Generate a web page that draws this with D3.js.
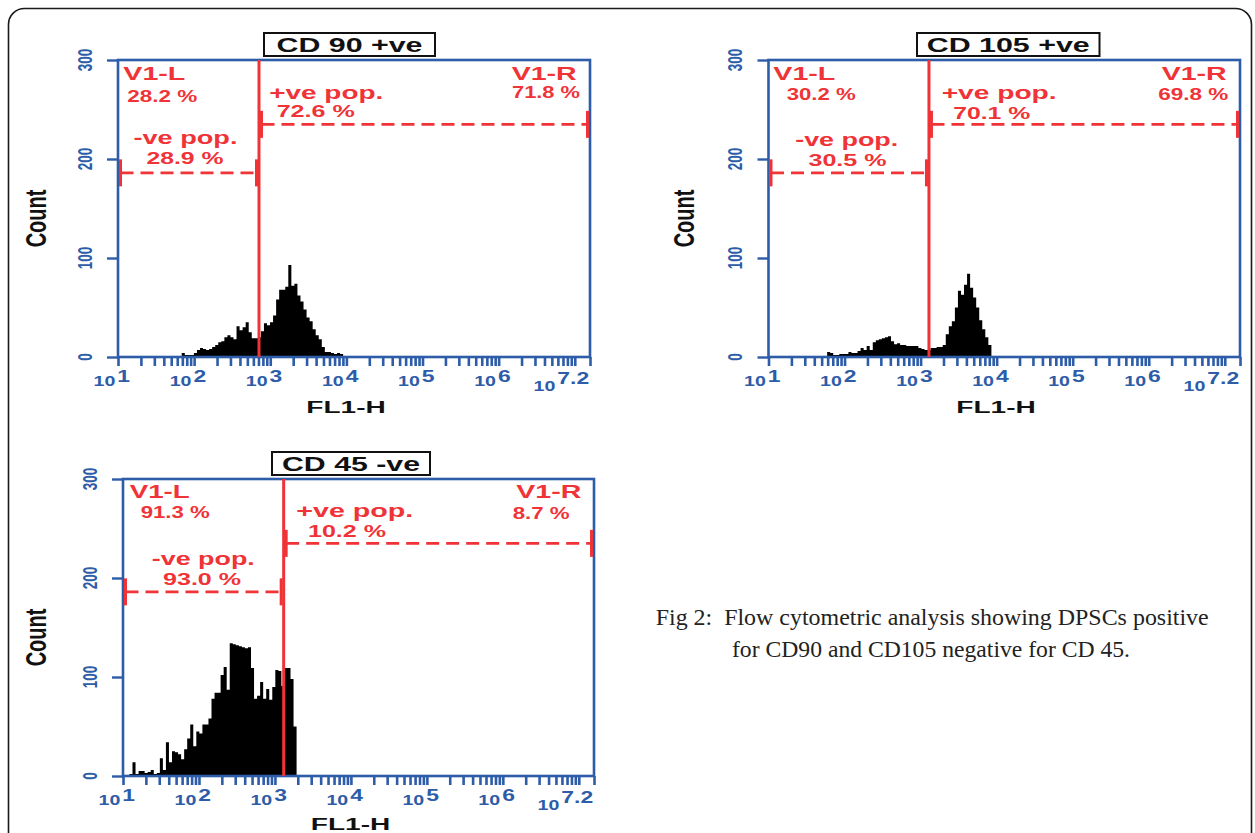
<!DOCTYPE html>
<html>
<head>
<meta charset="utf-8">
<script src="https://cdn.jsdelivr.net/npm/d3@7"></script>
<style>
  body { margin: 0; background: #fff; }
  svg { display: block; }
</style>
</head>
<body>
<svg id="fig" width="1255" height="833"></svg>
<script>
// ---- values ----
const panelTitles = ["CD 90 +ve", "CD 105 +ve", "CD 45 -ve"];
const leftPct  = ["28.2 %", "30.2 %", "91.3 %"];
const rightPct = ["71.8 %", "69.8 %", "8.7 %"];
const negPct   = ["28.9 %", "30.5 %", "93.0 %"];
const posPct   = ["72.6 %", "70.1 %", "10.2 %"];
const gateExp  = [2.852, 3.11, 3.115];     // V1 gate position, log10(FL1-H)
const negMarker = [186, 186, 186];         // count level of the -ve pop. marker
const posMarker = [235, 235, 235];         // count level of the +ve pop. marker

// histogram channels: first bin (log10 FL1-H) and width in decades
const binStartExp = [1.837, 1.771, 1.085];
const binWidthExp = 0.04;
const counts90 = [4, 2, 2, 2, 4, 7, 9, 8, 7, 8, 10, 12, 15, 16, 20, 22, 20, 18, 31, 27,
  30, 35, 25, 19, 19, 20, 26, 34, 32, 35, 42, 58, 68, 68, 71, 93, 72, 74, 62, 56,
  48, 40, 36, 28, 22, 18, 10, 5, 5, 4, 3, 4, 3];
const counts105 = [5, 4, 2, 2, 3, 3, 3, 5, 4, 4, 6, 9, 7, 11, 7, 15, 17, 18, 19, 20,
  21, 16, 13, 14, 12, 12, 11, 11, 11, 11, 9, 8, 7, 7, 9, 9, 10, 10, 12, 23,
  31, 36, 50, 67, 63, 73, 84, 70, 60, 50, 37, 28, 20, 12];
const counts45 = [2, 14, 2, 5, 5, 3, 4, 6, 2, 3, 18, 6, 34, 14, 25, 24, 22, 17, 27, 38,
  52, 30, 45, 43, 52, 52, 58, 78, 84, 84, 102, 110, 87, 134, 133, 132, 131, 130, 129, 130,
  109, 78, 81, 95, 78, 88, 77, 90, 107, 106, 91, 109, 109, 98, 50];
const allCounts = [counts90, counts105, counts45];

const yTicks = [0, 100, 200, 300];
const xLabelExps = ["1", "2", "3", "4", "5", "6", "7.2"];
const xMaxExp = 7.2;

const caption = ["Fig 2:\u00a0 Flow cytometric analysis showing DPSCs positive",
                 "for CD90 and CD105 negative for CD 45."];

// ---- layout ----
const RED = "#ef3337", BLUE = "#2d5ca8";
const SANS = "'Liberation Sans', Arial, Helvetica, sans-serif";
const SX = 1.45;   // the source figure is stretched horizontally

// label offsets: [dx, dy(from plot top), width]
const layout = [
  { left: 118, top: 60, right: 590, bottom: 357, box: [264, 33, 171, 23], titleW: 146, countX: 45.5, xlabX: 346, xlabDy: 55.6,
    v1l: [5.3, 19.7, 62], lp: [9.3, 42.3, 70], pp: [10.3, 38.7, 114], ppv: [17.7, 57.3, 78],
    v1r: [-13.3, 19.5, 65], rp: [-10, 38, 68], np: [-3, 84, 104], npv: [-3.6, 104, 77] },
  { left: 768.5, top: 60, right: 1240, bottom: 357, box: [917, 33, 182.5, 23], titleW: 163, countX: 694, xlabX: 996, xlabDy: 55.6,
    v1l: [4.8, 19.7, 62], lp: [18.2, 39.7, 69], pp: [12.7, 38.7, 115], ppv: [24.3, 59, 77],
    v1r: [-13.3, 19.5, 65], rp: [-11.7, 40, 70], np: [-2, 85.7, 103], npv: [-1.2, 106.3, 78] },
  { left: 123, top: 479, right: 594, bottom: 776, box: [272, 452, 158, 23], titleW: 138, countX: 45.5, xlabX: 350.5, xlabDy: 53.5,
    v1l: [6.7, 19, 60], lp: [17.7, 39, 69], pp: [12.6, 38, 117], ppv: [24.3, 58.3, 78],
    v1r: [-12.7, 19.2, 65], rp: [-24.3, 39.5, 57], np: [0, 86.3, 103], npv: [-1.3, 105.7, 78] }
];

const svg = d3.select("#fig");

// outer rounded frame (runs off the bottom of the page)
svg.append("rect")
  .attr("x", 8.5).attr("y", 8.5).attr("width", 1243).attr("height", 900)
  .attr("rx", 16).attr("fill", "none").attr("stroke", "#1a1a1a").attr("stroke-width", 1.6);

function label(g, txt, x, y, w, size, anchor, color) {
  g.append("text")
    .attr("x", x).attr("y", y)
    .attr("text-anchor", anchor)
    .attr("font-family", SANS).attr("font-weight", "bold")
    .attr("font-size", size).attr("fill", color)
    .attr("textLength", w).attr("lengthAdjust", "spacingAndGlyphs")
    .text(txt);
}

// minor + major tick values over the log axis
const xTickVals = [];
for (let e = 1; e <= 7; e++) {
  for (let m = 1; m <= 9; m++) {
    const v = m * Math.pow(10, e);
    if (v <= Math.pow(10, xMaxExp)) xTickVals.push(v);
  }
}
xTickVals.push(Math.pow(10, xMaxExp));

layout.forEach((L, p) => {
  const g = svg.append("g");
  const x = d3.scaleLog().domain([10, Math.pow(10, xMaxExp)]).range([L.left, L.right]);
  const y = d3.scaleLinear().domain([0, 300]).range([L.bottom, L.top]);
  const gx = x(Math.pow(10, gateExp[p]));

  // histogram
  const counts = allCounts[p];
  const pts = counts.map((c, i) => ({ e: binStartExp[p] + i * binWidthExp, c: c }));
  pts.push({ e: binStartExp[p] + counts.length * binWidthExp, c: 0 });
  const area = d3.area()
    .x(d => x(Math.pow(10, d.e)))
    .y0(y(0))
    .y1(d => y(d.c))
    .curve(d3.curveStepAfter);
  g.append("path").datum(pts).attr("d", area).attr("fill", "#000");

  // axes ticks
  const xAxis = d3.axisBottom(x).tickValues(xTickVals).tickSize(9).tickSizeOuter(0).tickFormat("");
  const ax = g.append("g").attr("transform", `translate(0,${L.bottom})`).attr("color", BLUE).call(xAxis);
  ax.select(".domain").remove();
  ax.selectAll("line").attr("stroke-width", 2.6);

  const yAxis = d3.axisLeft(y).tickValues(yTicks).tickSize(11).tickSizeOuter(0).tickFormat("");
  const ay = g.append("g").attr("transform", `translate(${L.left},0)`).attr("color", BLUE).call(yAxis);
  ay.select(".domain").remove();
  ay.selectAll("line").attr("stroke-width", 2.4);

  // plot frame
  g.append("rect")
    .attr("x", L.left).attr("y", L.top)
    .attr("width", L.right - L.left).attr("height", L.bottom - L.top)
    .attr("fill", "none").attr("stroke", BLUE).attr("stroke-width", 2.6);

  // y tick labels (rotated)
  yTicks.forEach(t => {
    g.append("text")
      .attr("transform", `translate(${L.left - 26.3},${y(t)}) scale(1.5,1) rotate(-90)`)
      .attr("text-anchor", "middle")
      .attr("font-family", SANS).attr("font-weight", "bold").attr("font-size", 13.5)
      .attr("fill", BLUE).text(t);
  });

  // x tick labels 10^n
  xLabelExps.forEach(ex => {
    const last = ex === "7.2";
    const tx = x(Math.pow(10, +ex)) + (last ? -32 : 0);
    const ty = L.bottom + 29 + (last ? 5 : 0);
    const tg = g.append("g").attr("transform", `translate(${tx},${ty}) scale(1.35,1)`)
      .attr("font-family", SANS).attr("font-weight", "bold").attr("fill", BLUE);
    tg.append("text").attr("x", -2).attr("text-anchor", "end").attr("font-size", 14.5).text("10");
    tg.append("text").attr("x", -0.5).attr("y", last ? -7 : -4).attr("font-size", 17).text(ex);
  });

  // axis titles
  g.append("text")
    .attr("transform", `translate(${L.xlabX},${L.bottom + L.xlabDy}) scale(1.7,1)`)
    .attr("text-anchor", "middle")
    .attr("font-family", SANS).attr("font-weight", "bold").attr("font-size", 16.5)
    .attr("fill", "#111").text("FL1-H");
  g.append("text")
    .attr("transform", `translate(${L.countX},${L.top + 158.5}) scale(${SX},1) rotate(-90)`)
    .attr("text-anchor", "middle")
    .attr("font-family", SANS).attr("font-weight", "bold").attr("font-size", 20)
    .attr("fill", "#111").text("Count");

  // panel title box
  g.append("rect")
    .attr("x", L.box[0]).attr("y", L.box[1]).attr("width", L.box[2]).attr("height", L.box[3])
    .attr("fill", "#fff").attr("stroke", "#111").attr("stroke-width", 2);
  label(g, panelTitles[p], L.box[0] + L.box[2] / 2, L.box[1] + 19, L.titleW, 20.5, "middle", "#111");

  // gate line
  g.append("line")
    .attr("x1", gx).attr("x2", gx).attr("y1", L.top).attr("y2", L.bottom)
    .attr("stroke", RED).attr("stroke-width", 3);

  // population markers
  const markers = [
    [L.left + 2.5, gx - 2.5, y(negMarker[p])],
    [gx + 2.5, L.right - 2.5, y(posMarker[p])]
  ];
  markers.forEach(m => {
    g.append("line")
      .attr("x1", m[0]).attr("x2", m[1]).attr("y1", m[2]).attr("y2", m[2])
      .attr("stroke", RED).attr("stroke-width", 2.6).attr("stroke-dasharray", "13,7");
    [m[0], m[1]].forEach(cx => {
      g.append("line")
        .attr("x1", cx).attr("x2", cx).attr("y1", m[2] - 13.5).attr("y2", m[2] + 13.5)
        .attr("stroke", RED).attr("stroke-width", 3);
    });
  });

  // red gate labels
  const mid = (L.left + gx) / 2;
  label(g, "V1-L", L.left + L.v1l[0], L.top + L.v1l[1], L.v1l[2], 18.5, "start", RED);
  label(g, leftPct[p], L.left + L.lp[0], L.top + L.lp[1], L.lp[2], 17, "start", RED);
  label(g, "+ve pop.", gx + L.pp[0], L.top + L.pp[1], L.pp[2], 18.5, "start", RED);
  label(g, posPct[p], gx + L.ppv[0], L.top + L.ppv[1], L.ppv[2], 17, "start", RED);
  label(g, "V1-R", L.right + L.v1r[0], L.top + L.v1r[1], L.v1r[2], 18, "end", RED);
  label(g, rightPct[p], L.right + L.rp[0], L.top + L.rp[1], L.rp[2], 17, "end", RED);
  label(g, "-ve pop.", mid + L.np[0], L.top + L.np[1], L.np[2], 18.5, "middle", RED);
  label(g, negPct[p], mid + L.npv[0], L.top + L.npv[1], L.npv[2], 17, "middle", RED);
});

// caption
const cap = svg.append("g")
  .attr("font-family", "'Liberation Serif', 'Times New Roman', serif")
  .attr("font-size", 23).attr("fill", "#222");
cap.append("text").attr("x", 655.7).attr("y", 625)
  .attr("textLength", 553).attr("lengthAdjust", "spacingAndGlyphs").text(caption[0]);
cap.append("text").attr("x", 732).attr("y", 657)
  .attr("textLength", 398).attr("lengthAdjust", "spacingAndGlyphs").text(caption[1]);
</script>
</body>
</html>
